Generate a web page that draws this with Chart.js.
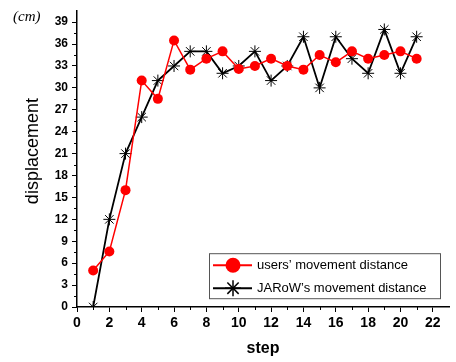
<!DOCTYPE html>
<html>
<head>
<meta charset="utf-8">
<script src="https://cdn.jsdelivr.net/npm/chart.js@4.4.0/dist/chart.umd.min.js"></script>
<style>
  html, body { margin: 0; padding: 0; background: #fff; }
  #wrap { width: 456px; height: 362px; }
</style>
</head>
<body>
<div id="wrap"><canvas id="displacement-chart-id"></canvas></div>
<script>
// data
const steps = [1, 2, 3, 4, 5, 6, 7, 8, 9, 10, 11, 12, 13, 14, 15, 16, 17, 18, 19, 20, 21];
const usersDistance = [5, 7.6, 16, 31, 28.5, 36.5, 32.5, 34, 35, 32.6, 33, 34, 33, 32.5, 34.5, 33.5, 35, 34, 34.5, 35, 34];
const jarowDistance = [0, 12, 21, 26, 31, 33, 35, 35, 32, 33, 35, 31, 33, 37, 30, 37, 34, 32, 38, 32, 37];
const xTicks = [0, 2, 4, 6, 8, 10, 12, 14, 16, 18, 20, 22];
const yTicks = [0, 3, 6, 9, 12, 15, 18, 21, 24, 27, 30, 33, 36, 39];
const seriesNames = ['users\u2019 movement distance', 'JARoW\u2019s movement distance'];

// minor ticks, unit label and the boxed legend
const extrasPlugin = {
  id: 'extras',
  afterDraw(chart) {
    const ctx = chart.ctx;
    const xs = chart.scales.x, ys = chart.scales.y;
    const area = chart.chartArea;
    ctx.save();
    ctx.strokeStyle = '#000';
    ctx.lineWidth = 1;
    // minor ticks
    for (let v = 1; v < 23; v += 2) {
      const px = Math.round(xs.getPixelForValue(v)) + 0.5;
      ctx.beginPath();
      ctx.moveTo(px, area.bottom);
      ctx.lineTo(px, area.bottom + 3);
      ctx.stroke();
    }
    for (let v = 1.5; v < 40.5; v += 3) {
      const py = Math.round(ys.getPixelForValue(v)) + 0.5;
      ctx.beginPath();
      ctx.moveTo(area.left, py);
      ctx.lineTo(area.left - 3, py);
      ctx.stroke();
    }

    // (cm)
    ctx.fillStyle = '#000';
    ctx.font = 'italic 15px "Liberation Serif"';
    ctx.textBaseline = 'middle';
    ctx.textAlign = 'left';
    ctx.fillText('(cm)', 13, 17);

    // y title, drawn here so it sits where the original has it
    ctx.save();
    ctx.translate(33, (area.top + area.bottom) / 2 - 8);
    ctx.rotate(-Math.PI / 2);
    ctx.textAlign = 'center';
    ctx.font = '18px "Liberation Sans"';
    ctx.fillText('displacement', 0, 0);
    ctx.restore();

    // legend
    const bx = area.left + 132, by = area.top + 242, bw = 231, bh = 45;
    ctx.lineWidth = 1;
    ctx.strokeStyle = '#555';
    ctx.strokeRect(bx + 0.5, by + 0.5, bw, bh);
    const rows = [by + 12, by + 35];
    ctx.font = '13px "Liberation Sans"';
    chart.data.datasets.forEach((ds, i) => {
      const y = rows[i];
      ctx.strokeStyle = ds.borderColor;
      ctx.lineWidth = 2;
      ctx.beginPath();
      ctx.moveTo(bx + 4, y);
      ctx.lineTo(bx + 43, y);
      ctx.stroke();
      if (i === 0) {
        ctx.fillStyle = ds.pointBackgroundColor;
        ctx.beginPath();
        ctx.arc(bx + 24, y, 7.5, 0, Math.PI * 2);
        ctx.fill();
      } else {
        ctx.lineWidth = 1.5;
        const r = 8;
        for (let k = 0; k < 4; k++) {
          const a = k * Math.PI / 4;
          ctx.beginPath();
          ctx.moveTo(bx + 24 - r * Math.cos(a), y - r * Math.sin(a));
          ctx.lineTo(bx + 24 + r * Math.cos(a), y + r * Math.sin(a));
          ctx.stroke();
        }
      }
      ctx.fillStyle = '#000';
      ctx.fillText(ds.label, bx + 48, y);
    });
    ctx.restore();
  }
};

const chartCtx = document.getElementById('displacement-chart-id');
new Chart(chartCtx, {
  type: 'line',
  data: {
    datasets: [
      {
        label: seriesNames[0],
        data: steps.map((s, i) => ({ x: s, y: usersDistance[i] })),
        borderColor: '#ff0000',
        backgroundColor: '#ff0000',
        borderWidth: 1.5,
        pointStyle: 'circle',
        pointRadius: 5,
        pointBackgroundColor: '#ff0000',
        pointBorderColor: '#ff0000',
        pointBorderWidth: 0,
        tension: 0
      },
      {
        label: seriesNames[1],
        data: steps.map((s, i) => ({ x: s, y: jarowDistance[i] })),
        borderColor: '#000000',
        backgroundColor: '#000000',
        borderWidth: 1.8,
        pointStyle: 'star',
        pointRadius: 6,
        pointBorderColor: '#000000',
        pointBorderWidth: 1,
        tension: 0
      }
    ]
  },
  options: {
    responsive: true,
    maintainAspectRatio: false,
    animation: false,
    layout: { padding: { top: 5, right: 4, bottom: 0, left: 0 } },
    plugins: {
      legend: { display: false },
      tooltip: { enabled: false }
    },
    scales: {
      x: {
        type: 'linear',
        min: 0,
        max: 23,
        afterBuildTicks: scale => { scale.ticks = xTicks.map(v => ({ value: v })); },
        afterFit: scale => { scale.height = 55; },
        grid: { drawOnChartArea: false, drawTicks: true, tickLength: 5, tickColor: '#000', tickWidth: 1 },
        border: { color: '#000', width: 1.5 },
        ticks: { color: '#000', font: { family: 'Liberation Sans', size: 14, weight: 'bold' }, padding: 3, maxRotation: 0 },
        title: {
          display: true,
          text: 'step',
          color: '#000',
          font: { family: 'Liberation Sans', size: 16, weight: 'bold' },
          padding: { top: 0, bottom: 4 }
        }
      },
      y: {
        type: 'linear',
        min: 0,
        max: 40.5,
        afterBuildTicks: scale => { scale.ticks = yTicks.map(v => ({ value: v })); },
        afterFit: scale => { scale.width = 77; },
        grid: { drawOnChartArea: false, drawTicks: true, tickLength: 5, tickColor: '#000', tickWidth: 1 },
        border: { color: '#000', width: 1.5 },
        ticks: { color: '#000', font: { family: 'Liberation Sans', size: 12, weight: 'bold' }, padding: 4 },
        title: { display: false }
      }
    }
  },
  plugins: [extrasPlugin]
});
</script>
</body>
</html>
